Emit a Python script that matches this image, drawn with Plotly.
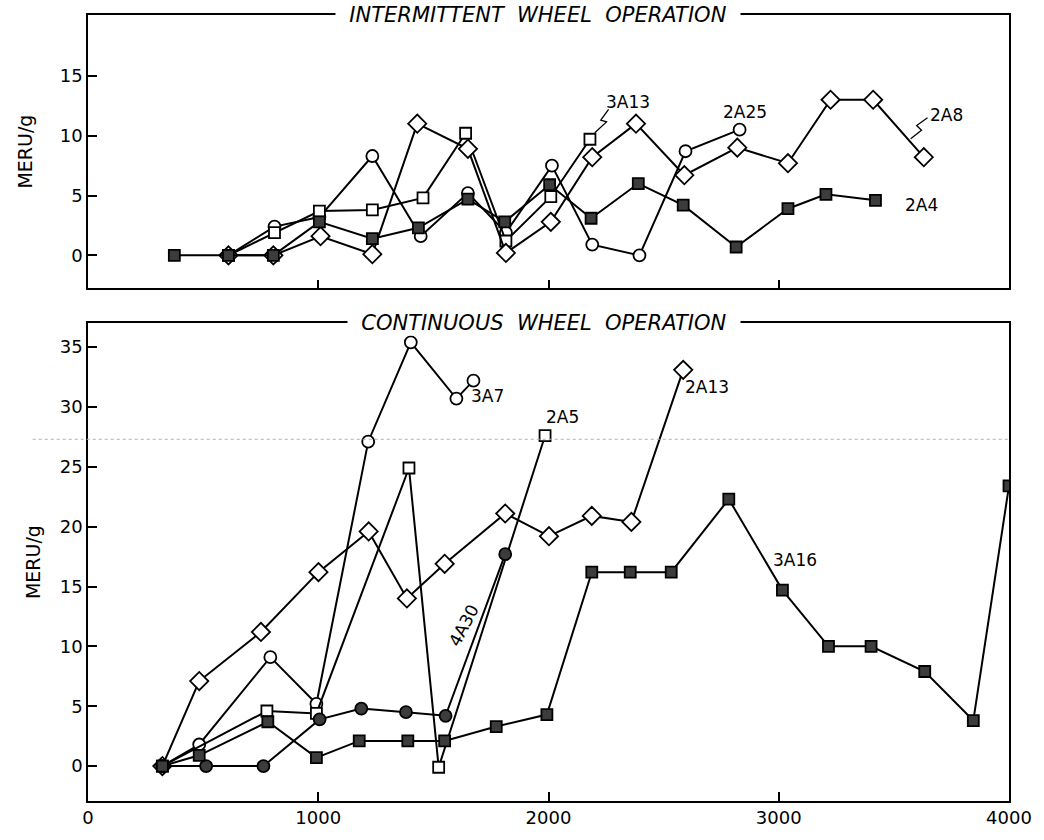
import plotly.graph_objects as go

# ---------------- Intermittent wheel operation (upper panel) ----------------
int_2a4_x = [375, 610, 805, 1005, 1235, 1435, 1650, 1810, 2005, 2185, 2390, 2585, 2815, 3040, 3205, 3420]
int_2a4_y = [0.0, 0.0, 0.0, 2.8, 1.4, 2.3, 4.7, 2.8, 5.9, 3.1, 6.0, 4.2, 0.7, 3.9, 5.1, 4.6]

int_2a8_x = [610, 805, 1010, 1235, 1430, 1650, 1815, 2010, 2190, 2380, 2590, 2820, 3040, 3225, 3410, 3630]
int_2a8_y = [0.0, 0.0, 1.6, 0.1, 11.0, 8.9, 0.2, 2.8, 8.2, 11.0, 6.7, 9.0, 7.7, 13.0, 13.0, 8.2]

int_3a13_x = [610, 810, 1005, 1235, 1455, 1640, 1815, 2010, 2180]
int_3a13_y = [0.0, 1.9, 3.7, 3.8, 4.8, 10.2, 1.2, 4.9, 9.7]

int_2a25_x = [610, 810, 1005, 1235, 1445, 1650, 1815, 2015, 2190, 2395, 2595, 2830]
int_2a25_y = [0.0, 2.4, 3.2, 8.3, 1.6, 5.2, 1.9, 7.5, 0.9, 0.0, 8.7, 10.5]

# ---------------- Continuous wheel operation (lower panel) ----------------
con_3a7_x = [323, 483, 792, 992, 1217, 1402, 1600, 1674]
con_3a7_y = [0.0, 1.8, 9.1, 5.2, 27.1, 35.4, 30.7, 32.2]

con_2a5_x = [323, 777, 992, 1394, 1523, 1985]
con_2a5_y = [0.0, 4.6, 4.4, 24.9, -0.1, 27.6]

con_2a13_x = [323, 483, 751, 1001, 1219, 1385, 1549, 1812, 2002, 2188, 2360, 2585]
con_2a13_y = [0.0, 7.1, 11.2, 16.2, 19.6, 14.0, 16.9, 21.1, 19.2, 20.9, 20.4, 33.1]

con_4a30_x = [323, 513, 762, 1006, 1187, 1381, 1553, 1812]
con_4a30_y = [0.0, 0.0, 0.0, 3.9, 4.8, 4.5, 4.2, 17.7]

con_3a16_x = [323, 483, 781, 992, 1178, 1389, 1549, 1773, 1993, 2188, 2355, 2533, 2783, 3016, 3216, 3401, 3634, 3845, 4000]
con_3a16_y = [0.0, 0.9, 3.7, 0.7, 2.1, 2.1, 2.1, 3.3, 4.3, 16.2, 16.2, 16.2, 22.3, 14.7, 10.0, 10.0, 7.9, 3.8, 23.4]

top_yticks = [0, 5, 10, 15]
bottom_yticks = [0, 5, 10, 15, 20, 25, 30, 35]
x_ticks = [0, 1000, 2000, 3000, 4000]

INK = "black"
DARK = "#3c3c3c"
FONT = "DejaVu Sans"

# marker looks: (symbol, fill, size)
STYLE = {
    "filled_square": ("square", DARK, 11),
    "open_square": ("square", "white", 11),
    "open_diamond": ("diamond", "white", 14),
    "open_circle": ("circle", "white", 12),
    "filled_circle": ("circle", DARK, 12),
}

fig = go.Figure()


def add_series(x, y, style, xa, ya):
    sym, fill, size = STYLE[style]
    fig.add_trace(go.Scatter(
        x=x, y=y, mode="lines+markers", xaxis=xa, yaxis=ya,
        line=dict(color=INK, width=2),
        marker=dict(symbol=sym, color=fill, size=size, line=dict(color=INK, width=1.8)),
        showlegend=False, hoverinfo="skip",
    ))


# upper panel
add_series(int_2a25_x, int_2a25_y, "open_circle", "x", "y")
add_series(int_3a13_x, int_3a13_y, "open_square", "x", "y")
add_series(int_2a8_x, int_2a8_y, "open_diamond", "x", "y")
add_series(int_2a4_x, int_2a4_y, "filled_square", "x", "y")

# lower panel
add_series(con_2a13_x, con_2a13_y, "open_diamond", "x2", "y2")
add_series(con_3a7_x, con_3a7_y, "open_circle", "x2", "y2")
add_series(con_2a5_x, con_2a5_y, "open_square", "x2", "y2")
add_series(con_4a30_x, con_4a30_y, "filled_circle", "x2", "y2")
add_series(con_3a16_x, con_3a16_y, "filled_square", "x2", "y2")

axis_common = dict(
    showline=True, mirror=True, linecolor=INK, linewidth=1.5,
    ticks="inside", ticklen=9, tickwidth=1.5, tickcolor=INK,
    showgrid=False, zeroline=False,
    tickfont=dict(family=FONT, size=18, color=INK),
)

title_font = dict(family=FONT, size=19, color=INK)

fig.update_layout(
    width=1044, height=840,
    margin=dict(l=88, r=28, t=15, b=37),
    paper_bgcolor="white", plot_bgcolor="white",
    xaxis=dict(axis_common, domain=[0, 1], anchor="y", range=[0, 4000],
               tickvals=x_ticks, showticklabels=False),
    yaxis=dict(axis_common, domain=[0.6523, 1.0], anchor="x", range=[-2.75, 20.08],
               tickvals=top_yticks,
               title=dict(text="MERU/g", font=title_font, standoff=22)),
    xaxis2=dict(axis_common, domain=[0, 1], anchor="y2", range=[0, 4000],
                tickvals=x_ticks),
    yaxis2=dict(axis_common, domain=[0.0, 0.6079], anchor="x2", range=[-2.92, 37.0],
                tickvals=bottom_yticks,
                title=dict(text="MERU/g", font=title_font, standoff=14)),
)

# panel headings sitting on the top frame line
heading_font = dict(family=FONT, size=21, color=INK)
fig.add_annotation(text="<i>&nbsp;&nbsp;INTERMITTENT  WHEEL  OPERATION&nbsp;&nbsp;</i>",
                   xref="x domain", yref="y domain", x=0.489, y=1.0,
                   xanchor="center", yanchor="middle", showarrow=False,
                   bgcolor="white", borderpad=0, font=heading_font)
fig.add_annotation(text="<i>&nbsp;&nbsp;CONTINUOUS  WHEEL  OPERATION&nbsp;&nbsp;</i>",
                   xref="x2 domain", yref="y2 domain", x=0.495, y=1.0,
                   xanchor="center", yanchor="middle", showarrow=False,
                   bgcolor="white", borderpad=0, font=heading_font)

# series names
label_font = dict(family=FONT, size=17, color=INK)
series_labels_top = [("3A13", 2345, 12.8), ("2A25", 2853, 12.0), ("2A8", 3728, 11.7), ("2A4", 3621, 4.2)]
for txt, lx, ly in series_labels_top:
    fig.add_annotation(text=txt, x=lx, y=ly, xref="x", yref="y", showarrow=False, font=label_font)

series_labels_bottom = [("3A7", 1737, 30.9), ("2A5", 2060, 29.2), ("2A13", 2690, 31.7), ("3A16", 3069, 17.2)]
for txt, lx, ly in series_labels_bottom:
    fig.add_annotation(text=txt, x=lx, y=ly, xref="x2", yref="y2", showarrow=False, font=label_font)
fig.add_annotation(text="4A30", x=1634, y=11.75, xref="x2", yref="y2", showarrow=False,
                   textangle=-62, font=label_font)

# zig-zag leaders tying the names to their curves
fig.add_shape(type="path", xref="x", yref="y",
              path="M 2261 12.2 L 2227 11.3 L 2252 11.15 L 2201 10.25",
              line=dict(color=INK, width=1.3))
fig.add_shape(type="path", xref="x", yref="y",
              path="M 3646 11.5 L 3599 10.85 L 3620 10.45 L 3573 9.75",
              line=dict(color=INK, width=1.3))

# faint dotted rule across the lower panel
fig.add_shape(type="line", xref="paper", yref="y2", x0=-0.06, x1=1.0, y0=27.3, y1=27.3,
              line=dict(color="#b0b0b0", width=1, dash="dot"))

fig.write_html("out.html")
